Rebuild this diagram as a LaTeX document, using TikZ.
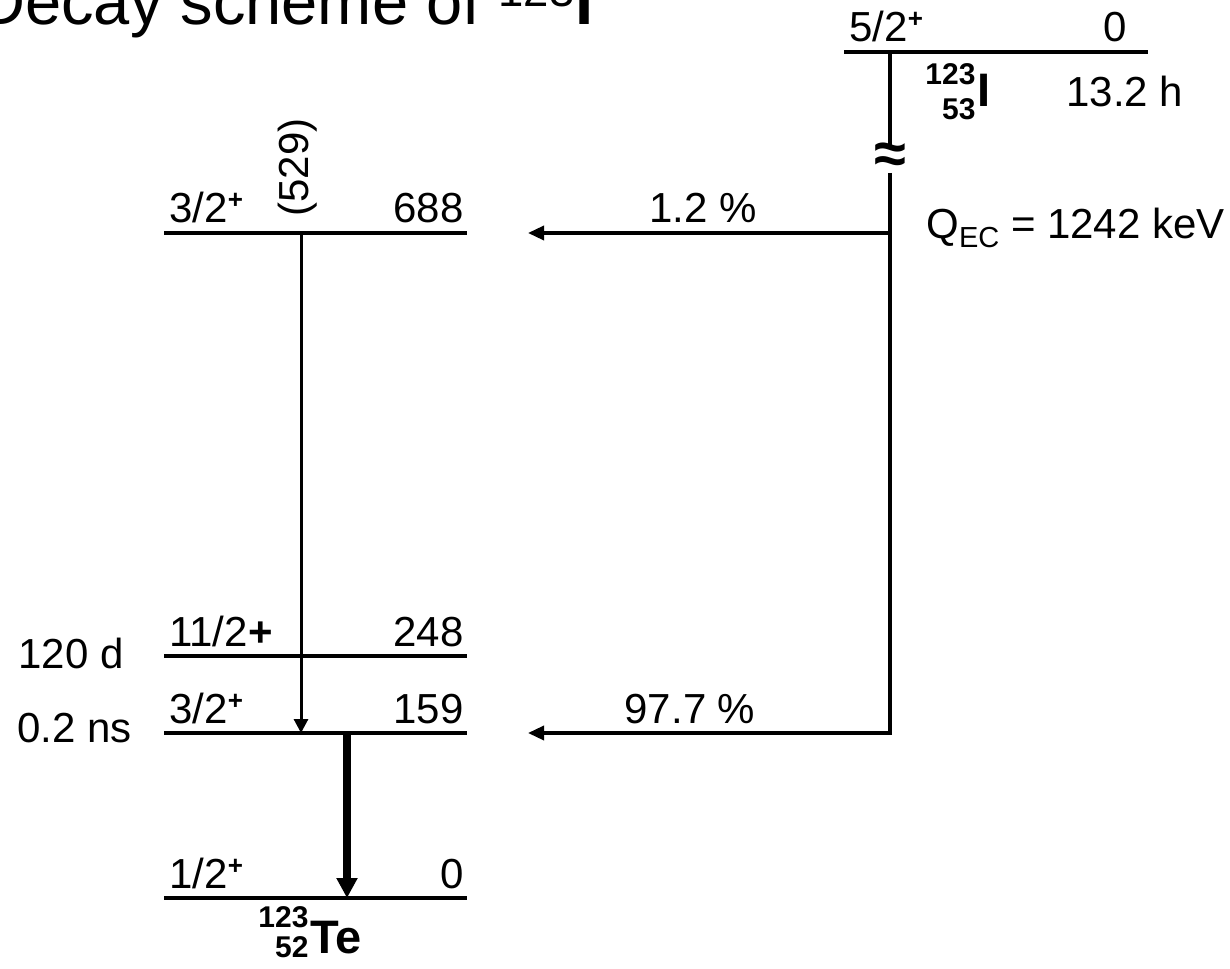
\documentclass[tikz,border=0pt]{standalone}
\usepackage{fontspec}
\setmainfont{Liberation Sans}
\usetikzlibrary{arrows.meta}
\newcommand{\jp}[1]{#1\raisebox{7pt}{\fontsize{13}{13}\selectfont\bfseries +}}
\newcommand{\nuc}[5]{\raisebox{-#5}{\fontsize{15}{#4}\selectfont\bfseries\begin{tabular}[b]{@{}r@{}}#1\\#2\end{tabular}}\hspace{1pt}{\fontsize{23.5}{26}\selectfont\bfseries #3}}

\begin{document}
\begin{tikzpicture}[x=0.5pt,y=-0.5pt,
		every node/.style={inner sep=0pt},
		txt/.style={font=\fontsize{21}{25}\selectfont},
		lvl/.style={line width=2pt},
		ecline/.style={line width=1.7pt},
		ec/.style={line width=1.7pt,-{Triangle[length=8pt,width=7pt]}},
		gam/.style={line width=1.5pt,-{Triangle[length=7pt,width=7pt]}},
		gamthick/.style={line width=4pt,-{Triangle[length=10pt,width=10pt]}}]
			\useasboundingbox (0,0) rectangle (1230,968);
			\node[anchor=base west,font=\fontsize{32.5}{36}\selectfont] (title) at (-22,25) {Decay scheme of \textsuperscript{123}\textbf{I}};
			\coordinate (i0L) at (844,52); \coordinate (i0R) at (1148,52);
			\coordinate (l688L) at (164,233); \coordinate (l688R) at (467,233);
			\coordinate (l248L) at (164,656); \coordinate (l248R) at (467,656);
			\coordinate (l159L) at (164,733); \coordinate (l159R) at (467,733);
			\coordinate (l0L) at (164,898); \coordinate (l0R) at (467,898);
			\draw[lvl] (i0L) -- (i0R);
			\draw[lvl] (l688L) -- (l688R);
			\draw[lvl] (l248L) -- (l248R);
			\draw[lvl] (l159L) -- (l159R);
			\draw[lvl] (l0L) -- (l0R);
			\node[txt,anchor=base west] (ji0) at (849,42) {\jp{5/2}};
			\node[txt,anchor=base east] (ei0) at (1127,42) {0};
			\node[anchor=base west] (iodine) at (925,107) {\nuc{123}{53}{I}{17.5pt}{6.5pt}};
			\node[txt,anchor=base west] (thalf) at (1066,107) {13.2 h};
			\node[txt,anchor=base west] (qec) at (926,238) {Q\raisebox{-5pt}{\fontsize{14.5}{15}\selectfont EC} = 1242 keV};
			\node[txt,anchor=base west] (j688) at (169,223) {\jp{3/2}};
			\node[txt,anchor=base east] (e688) at (464,223) {688};
			\node[txt,anchor=base west] (j248) at (169,646) {11/2\textbf{+}};
			\node[txt,anchor=base east] (e248) at (464,646) {248};
			\node[txt,anchor=base west] (t248) at (18,668) {120 d};
			\node[txt,anchor=base west] (j159) at (169,723) {\jp{3/2}};
			\node[txt,anchor=base east] (e159) at (464,723) {159};
			\node[txt,anchor=base west] (t159) at (17,742) {0.2 ns};
			\node[txt,anchor=base west] (j0) at (169,888) {\jp{1/2}};
			\node[txt,anchor=base east] (e0) at (464,888) {0};
			\node[anchor=base west] (tellur) at (258,953) {\nuc{123}{52}{Te}{13.5pt}{2pt}};
			\coordinate (ecA) at (890,52); \coordinate (ecB) at (890,145);
			\node[font=\fontsize{29}{30}\selectfont\bfseries] (brk) at (890,158) {≈};
			\coordinate (ecC) at (890,173);
			\coordinate (ec688) at (890,233); \coordinate (ec159) at (890,733);
			\coordinate (to688) at (528,233); \coordinate (to159) at (528,733);
			\draw[ecline] (ecA) -- (ecB);
			\draw[ec] (ecC) -- (ec159) -- (to159);
			\draw[ec] (ec688) -- (to688);
			\node[txt,anchor=base] (p688) at (703,223) {1.2 \%};
			\node[txt,anchor=base] (p159) at (690,723) {97.7 \%};
			\coordinate (g529a) at (301,233); \coordinate (g529b) at (301,733);
			\draw[gam] (g529a) -- (g529b);
			\node[txt,rotate=90,anchor=base west] (g529) at (308,217) {(529)};
			\coordinate (g159a) at (347,733); \coordinate (g159b) at (347,898);
			\draw[gamthick] (g159a) -- (g159b);
		\end{tikzpicture}
\end{document}
